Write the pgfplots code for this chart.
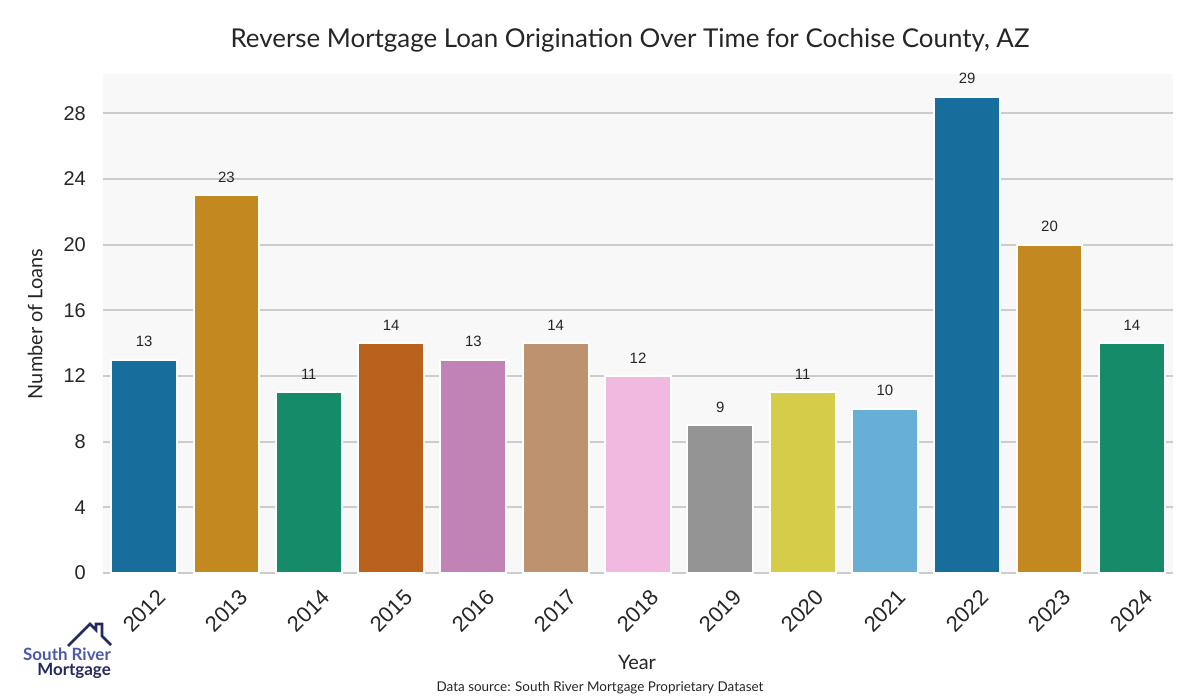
\documentclass[border=0pt]{standalone}
\usepackage{pgfplots}
\pgfplotsset{compat=1.18}
\usepackage{fontspec}
\setmainfont{Lato}
\newfontfamily\arialf{Liberation Sans}
\definecolor{c0}{HTML}{176D9C}
\definecolor{c1}{HTML}{C38820}
\definecolor{c2}{HTML}{168B6A}
\definecolor{c3}{HTML}{BA611B}
\definecolor{c4}{HTML}{C182B5}
\definecolor{c5}{HTML}{BD926E}
\definecolor{c6}{HTML}{F1B8E0}
\definecolor{c7}{HTML}{949494}
\definecolor{c8}{HTML}{D5CD4A}
\definecolor{c9}{HTML}{68AFD7}
\definecolor{bgc}{HTML}{F8F8F8}
\definecolor{gridc}{HTML}{CCCCCC}
\definecolor{txt}{HTML}{262626}
\definecolor{logoblue}{HTML}{4A5AA8}
\definecolor{logonavy}{HTML}{232A5C}
\begin{document}
\begin{tikzpicture}
\path[use as bounding box, fill=white] (0,0) rectangle (1200bp,700bp);
\begin{axis}[
  at={(103bp,127bp)}, anchor=south west,
  width=1070bp, height=499bp, scale only axis,
  xmin=-0.5, xmax=12.5, ymin=0, ymax=30.4,
  axis background/.style={fill=bgc},
  axis line style={draw=none},
  ytick={0,4,...,28},
  xtick={0,...,12},
  xticklabels={\rotatebox{45}{2012},\rotatebox{45}{2013},\rotatebox{45}{2014},\rotatebox{45}{2015},\rotatebox{45}{2016},\rotatebox{45}{2017},\rotatebox{45}{2018},\rotatebox{45}{2019},\rotatebox{45}{2020},\rotatebox{45}{2021},\rotatebox{45}{2022},\rotatebox{45}{2023},\rotatebox{45}{2024}},
  major tick length=0pt,
  ymajorgrids,
  grid style={draw=gridc, line width=1.8bp},
  /pgf/number format/assume math mode=true,
  yticklabel style={font=\arialf\fontsize{20}{24}\selectfont, text=txt, anchor=east, inner sep=0pt, xshift=-17bp},
  xticklabel style={font=\arialf\fontsize{22}{26}\selectfont, text=txt, anchor=north, inner sep=0pt, yshift=-15bp},
  ybar, bar width=0.8, bar shift=0pt,
  every axis plot/.append style={draw=white, line width=2bp},
  nodes near coords,
  nodes near coords style={font=\arialf\fontsize{15}{18}\selectfont, text=txt, anchor=south, inner sep=0pt, yshift=12bp},
  clip=false,
]
\addplot[fill=c0] coordinates {(0,13)};
\addplot[fill=c1] coordinates {(1,23)};
\addplot[fill=c2] coordinates {(2,11)};
\addplot[fill=c3] coordinates {(3,14)};
\addplot[fill=c4] coordinates {(4,13)};
\addplot[fill=c5] coordinates {(5,14)};
\addplot[fill=c6] coordinates {(6,12)};
\addplot[fill=c7] coordinates {(7,9)};
\addplot[fill=c8] coordinates {(8,11)};
\addplot[fill=c9] coordinates {(9,10)};
\addplot[fill=c0] coordinates {(10,29)};
\addplot[fill=c1] coordinates {(11,20)};
\addplot[fill=c2] coordinates {(12,14)};
\end{axis}
\node[text=txt, font=\fontsize{26}{31}\selectfont] at (630bp,660bp) {Reverse Mortgage Loan Origination Over Time for Cochise County, AZ};
\node[text=txt, font=\fontsize{20}{24}\selectfont] at (637bp,38bp) {Year};
\node[text=txt, font=\fontsize{20}{24}\selectfont, rotate=90] at (35bp,376bp) {Number of Loans};
\node[text=txt, font=\fontsize{13.5}{16}\selectfont] at (600bp,12bp) {Data source: South River Mortgage Proprietary Dataset};
% logo
\draw[logonavy, line width=2.6bp, line join=miter] (68bp,54bp) -- (90bp,76bp) -- (96bp,70bp) -- (96bp,76bp) -- (102bp,76bp) -- (102bp,64bp) -- (111bp,55bp);
\node[anchor=east, inner sep=0pt, text=logoblue, font=\bfseries\fontsize{17}{20}\selectfont] at (111bp,46bp) {South River};
\node[anchor=east, inner sep=0pt, text=logonavy, font=\bfseries\fontsize{17}{20}\selectfont] at (111bp,29bp) {Mortgage};
\end{tikzpicture}
\end{document}
